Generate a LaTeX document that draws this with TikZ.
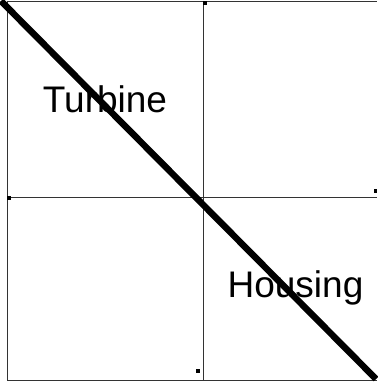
\documentclass[tikz,border=0pt]{standalone}
\usepackage{fontspec}
\setmainfont{Liberation Sans}
\usetikzlibrary{positioning}

\begin{document}
\begin{tikzpicture}[
  x=1pt, y=-1pt,
  grid/.style={draw=black!80, line width=0.9pt},
  diag/.style={draw=black, line width=6.5pt},
  tick/.style={fill=black},
  lbl/.style={inner sep=0pt, anchor=base, font=\fontsize{37}{40}\selectfont}
]
\useasboundingbox (0,0) rectangle (377,382);
% ── frame and cross ─────────────
\coordinate (tl) at (7.5,1);
\coordinate (tr) at (377,1);
\coordinate (bl) at (7.5,380.5);
\coordinate (br) at (377,380.5);
\coordinate (mt) at (203.5,1);
\coordinate (mb) at (203.5,380.5);
\coordinate (ml) at (7.5,197.5);
\coordinate (mr) at (377,197.5);
\draw[grid] (bl) -- (tl) -- (tr);
\draw[grid] (bl) -- (br);
\draw[grid] (mt) -- (mb);
\draw[grid] (ml) -- (mr);

% ── small marks ─────────────
\fill[tick] (203,1) rectangle (207,5);
\fill[tick] (7,196) rectangle (11,200);
\fill[tick] (374,189) rectangle (377,193);
\fill[tick] (196,369) rectangle (200,373);

% ── labels ─────────────
\node[lbl] (turbine) at (105,113) {Turbine};
\node[lbl] (housing) at (295.5,297) {Housing};

% ── diagonal ─────────────
\coordinate (d0) at (1,1);
\coordinate (d1) at (376,379);
\draw[diag] (d0) -- (d1);
\end{tikzpicture}
\end{document}
